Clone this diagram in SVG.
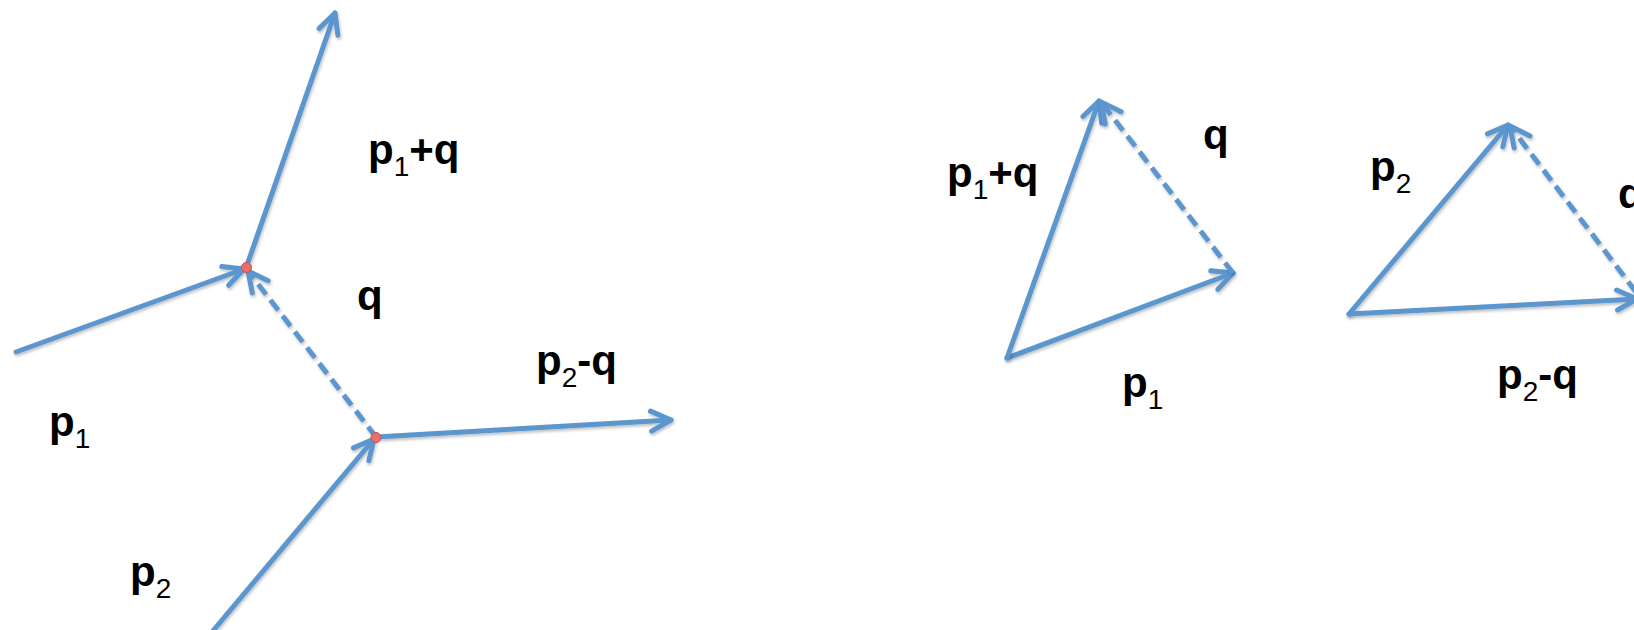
<svg xmlns="http://www.w3.org/2000/svg" width="1634" height="630" viewBox="0 0 1634 630">
<style>
.v{fill:none;stroke:#5B96CE;stroke-width:5;stroke-linecap:round;marker-end:url(#ah);filter:url(#sh)}
.d{stroke-dasharray:13 7;stroke-linecap:butt}
.lbl{font-family:"Liberation Sans",Arial,sans-serif;font-weight:bold;font-size:42px;fill:#000}
.sub{font-weight:normal;font-size:28px}
.dot{fill:#E8706A;stroke:#C9504A;stroke-width:1}
</style>
<defs>
<filter id="sh" filterUnits="userSpaceOnUse" x="-20" y="-20" width="1680" height="680">
<feDropShadow dx="1" dy="2" stdDeviation="1.5" flood-color="#000" flood-opacity="0.25"/>
</filter>
<marker id="ah" markerUnits="userSpaceOnUse" viewBox="-24 -14 28 28" refX="0" refY="0" markerWidth="28" markerHeight="28" orient="auto" overflow="visible">
<path d="M-20 -10 L0 0 L-20 10" fill="none" stroke="#5B96CE" stroke-width="5" stroke-linecap="round" stroke-linejoin="round" stroke-dasharray="none"/>
</marker>
</defs>
<g id="connectors">
<line class="v" x1="16" y1="352" x2="244" y2="269"/>
<line class="v" x1="246" y1="268" x2="335" y2="13"/>
<line class="v d" x1="376" y1="437" x2="248" y2="271"/>
<line class="v" x1="212" y1="632" x2="374" y2="439"/>
<line class="v" x1="376" y1="437" x2="671" y2="420"/>
<line class="v" x1="1007" y1="358" x2="1233" y2="273"/>
<line class="v" x1="1007" y1="358" x2="1099" y2="101"/>
<line class="v d" x1="1233" y1="273" x2="1101" y2="102"/>
<line class="v" x1="1349" y1="314" x2="1508" y2="125"/>
<line class="v" x1="1349" y1="314" x2="1637" y2="299"/>
<line class="v d" x1="1636" y1="292" x2="1510" y2="126"/>
</g>
<g id="dots">
<circle class="dot" cx="246.5" cy="267.5" r="5"/>
<circle class="dot" cx="376" cy="437.5" r="5"/>
</g>
<g id="labels">
<text id="l-p1q" class="lbl" x="368" y="164">p<tspan class="sub" dy="12">1</tspan><tspan dy="-12">+q</tspan></text>
<text id="l-q" class="lbl" x="357" y="310">q</text>
<text id="l-p2q" class="lbl" x="536" y="375">p<tspan class="sub" dy="12">2</tspan><tspan dy="-12">-q</tspan></text>
<text id="l-p1" class="lbl" x="49" y="436">p<tspan class="sub" dy="12">1</tspan></text>
<text id="l-p2" class="lbl" x="130" y="586">p<tspan class="sub" dy="12">2</tspan></text>
<text id="r-p1q" class="lbl" x="947" y="187">p<tspan class="sub" dy="12">1</tspan><tspan dy="-12">+q</tspan></text>
<text id="r-q1" class="lbl" x="1203" y="149">q</text>
<text id="r-p1" class="lbl" x="1122" y="397">p<tspan class="sub" dy="12">1</tspan></text>
<text id="r-p2" class="lbl" x="1370" y="181">p<tspan class="sub" dy="12">2</tspan></text>
<text id="r-p2q" class="lbl" x="1497" y="389">p<tspan class="sub" dy="12">2</tspan><tspan dy="-12">-q</tspan></text>
<text id="r-q2" class="lbl" x="1618" y="208">q</text>
</g>
</svg>
